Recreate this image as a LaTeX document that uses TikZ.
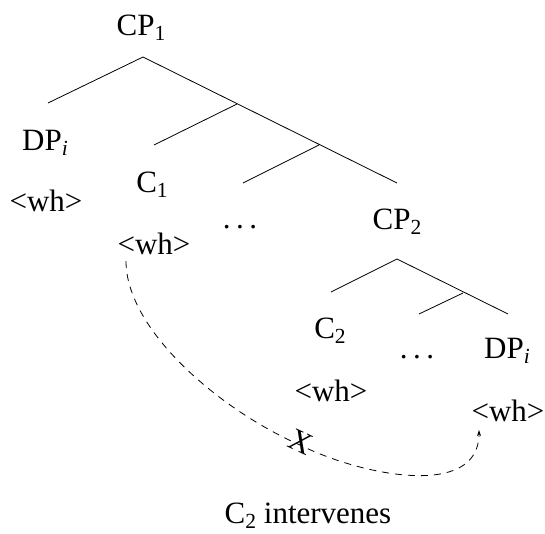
\documentclass[tikz,border=0pt]{standalone}
\usepackage{fontspec}
\setmainfont{Liberation Serif}
\usetikzlibrary{arrows.meta}
\newcommand\sbx[1]{\raisebox{-5pt}{\fontsize{21.5}{21.5}\selectfont #1}}
\newcommand\mydots{.\kern5.5pt.\kern5.5pt.}
\begin{document}
\begin{tikzpicture}[x=1pt,y=-1pt,
  lab/.style={font=\fontsize{31}{36}\selectfont, anchor=base, inner sep=0pt},
  branch/.style={line width=0.8pt},
  move/.style={line width=0.8pt, dash pattern=on 7pt off 6pt, -{Stealth[length=6pt,width=4pt]}}]
\useasboundingbox (0,0) rectangle (545,533);
% tree joints
\coordinate (top1) at (143,57);
\coordinate (dpend) at (48,103);
\coordinate (j1) at (237,104);
\coordinate (c1end) at (154,145);
\coordinate (j2) at (319,145);
\coordinate (dotsend) at (243,183);
\coordinate (cp2end) at (397,183);
\coordinate (top2) at (397,259);
\coordinate (c2end) at (331,292);
\coordinate (j3) at (463,293);
\coordinate (dots2end) at (419,314);
\coordinate (dp2end) at (508,314);
% labels
\node[lab] (cp1) at (141,35) {CP\sbx{1}};
\node[lab] (dpi) at (45,150) {DP\sbx{\textit{i}}};
\node[lab] (wh1) at (46,211) {<wh>};
\node[lab] (c1) at (152,192) {C\sbx{1}};
\node[lab] (wh2) at (154,254) {<wh>};
\node[lab] (dots1) at (240,228) {\mydots};
\node[lab] (cp2) at (397,229) {CP\sbx{2}};
\node[lab] (c2) at (330,338) {C\sbx{2}};
\node[lab] (dots2) at (417,358) {\mydots};
\node[lab] (dpi2) at (507,358) {DP\sbx{\textit{i}}};
\node[lab] (wh3) at (331,401) {<wh>};
\node[lab] (wh4) at (508,421) {<wh>};
\node[lab] (cap) at (308,523) {C\sbx{2} intervenes};
% branches
\draw[branch] (dpend) -- (top1) -- (cp2end);
\draw[branch] (c1end) -- (j1);
\draw[branch] (dotsend) -- (j2);
\draw[branch] (c2end) -- (top2) -- (dp2end);
\draw[branch] (dots2end) -- (j3);
% movement
\coordinate (mstart) at (126,261);
\coordinate (mmid) at (300,445);
\coordinate (mend) at (479,430);
\draw[move] (mstart) .. controls (126,330) and (220,410) .. (mmid)
  .. controls (360,475) and (479,500) .. (mend);
\node[font=\fontsize{31}{36}\selectfont, inner sep=0pt, rotate=-25] (x) at (301,442) {X};
\end{tikzpicture}
\end{document}
